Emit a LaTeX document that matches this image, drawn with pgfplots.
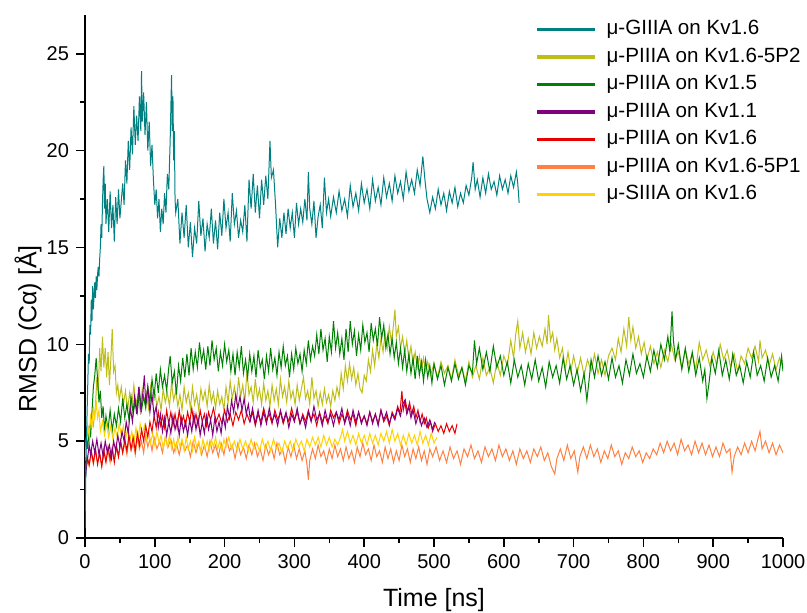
\documentclass[border=0pt]{standalone}
\usepackage{fontspec}
\setmainfont{Liberation Sans}
\usepackage{pgfplots}
\usepackage{pgfplotstable}
\pgfplotsset{compat=1.18}
\definecolor{cTeal}{RGB}{0,128,128}
\definecolor{cOlive}{RGB}{190,190,25}
\definecolor{cGreen}{RGB}{0,128,0}
\definecolor{cPurple}{RGB}{128,0,128}
\definecolor{cRed}{RGB}{232,0,0}
\definecolor{cOrange}{RGB}{255,128,64}
\definecolor{cYellow}{RGB}{255,210,0}

\pgfplotstableread{
t v
0 0.5
1 3
2 5
3 6.5
4 8
5 9.5
6 9
7 11
8 10.5
9 12.3
10 11.2
11 13
12 11.8
13 12.5
14 13.2
15 12.4
16 13.5
17 12.8
18 13.6
19 14
20 13.5
21 14.4
22 15
23 16.2
24 15.5
25 17.2
26 18.5
27 19.2
28 17
29 18.3
30 16.2
32 17.5
34 15.8
36 17.9
38 16
40 17.2
42 15.3
44 17.6
46 16.2
48 18
50 16.5
52 17.4
54 18.3
56 17.2
58 19.5
60 18.3
62 20.5
64 19
66 21.2
68 19.8
70 22.3
72 20.3
74 21.8
76 20.5
78 22.8
80 21
81 24.1
82 21.5
84 23
86 20.8
88 22.5
90 20
92 21.5
94 19.2
96 20.3
98 18.5
100 17.2
102 18
104 16.5
106 17.5
108 15.8
110 17
112 16.2
114 17.8
116 16.8
118 18.8
120 18
122 20.5
124 23.9
125 21
126 22.8
127 19.5
128 21
129 17.5
130 16.8
133 17.5
136 15.2
139 16.8
142 15.5
145 17.2
148 15
151 16.3
154 14.5
157 16
160 15.2
163 17.4
166 15.6
169 16.5
172 14.8
175 16.2
178 15.5
181 17
184 15.2
187 16.4
190 14.9
193 16.8
196 15.6
199 17.5
202 16
205 16.8
208 15.3
211 17.8
214 16.2
217 16.9
220 15.5
223 16.4
226 15.8
229 17.2
232 15.3
235 18.5
238 17
241 18.8
244 16.8
247 18.2
250 16.5
253 18.5
256 17.2
259 18.7
262 17.5
265 20.5
267 18.6
270 19
273 17.2
276 15
279 16.5
282 15.5
285 16.8
288 15.7
291 17
294 16
297 16.8
300 15.5
303 17.3
306 16.2
309 17
312 16.3
315 17.5
318 16.4
320 18.9
322 17
325 16.2
328 17.4
331 15.5
334 16.6
337 17.2
340 16
343 18.6
346 16.8
349 17.5
352 16.6
356 17.6
360 16.8
364 17.9
368 16.9
372 17.5
376 16.6
380 18.2
384 17.1
388 17.8
392 16.9
396 18.3
400 17.3
404 18
408 17
412 18.5
416 17.4
420 18.1
424 17.2
428 18.6
432 17.6
436 18.3
440 17.4
444 18.7
448 17.8
452 18.4
456 17.5
460 18.9
464 17.9
468 18.5
472 17.8
476 19
480 18.2
484 19.7
487 18.5
490 17.5
494 16.8
498 17.6
502 17
506 18
510 17.2
514 17.8
518 16.9
522 17.9
526 17.3
530 18.1
534 17.1
538 17.8
542 17.3
546 18.2
550 17.7
554 18.6
556 19.4
559 18
562 18.5
566 17.6
570 18.6
574 17.8
578 18.8
582 18
586 18.4
590 17.7
594 18.7
598 18
602 18.5
606 17.8
610 18.7
614 18.1
618 18.9
620 18.3
622 17.3
}\giiia

\pgfplotstableread{
t v
0 4.5
2 5.2
4 4.6
6 5.8
8 5.2
10 6.5
12 7.8
14 8.4
16 9.3
18 8.2
20 7
22 7.6
24 6.2
26 6.8
28 5.5
30 6.3
33 5.6
36 6.6
39 5.5
42 6.4
45 5.8
48 6.7
51 6.0
54 7.2
57 6.2
60 6.9
63 6.1
66 7.3
69 6.4
72 7.1
75 6.5
78 7.6
81 6.6
84 7.3
87 6.7
90 7.8
93 7
96 8.2
99 7.3
102 8.5
105 7.5
108 8.7
111 7.8
114 8.4
117 7.6
120 8.8
122 9.4
125 8
128 8.6
131 7.4
134 8.9
137 8.1
140 9.3
143 8.3
146 9.5
149 8.4
152 9.8
155 8.7
158 9.6
161 8.8
164 10.1
167 9.1
170 9.7
173 8.7
176 9.9
179 8.9
182 10.2
185 9.2
188 9.8
191 8.6
194 9.6
197 8.9
200 10
203 9.1
206 9.7
209 8.6
212 9.5
215 8.4
218 9.6
221 8.8
224 9.9
227 8.5
230 9.2
233 8.3
236 9.5
239 8.6
242 9.4
245 8.3
248 9.7
251 8.8
254 9.2
257 8.2
260 9.4
263 8.6
266 9.8
269 8.7
272 9.3
275 8.4
278 9.6
281 8.8
284 9.9
287 8.9
290 9.4
293 8.3
296 9.5
299 8.7
302 9.8
305 9
308 9.5
311 8.6
314 9.7
317 9
320 10.2
323 9.2
326 9.9
329 9.4
332 10.5
335 9.5
338 10.8
341 9.7
344 10.3
347 9.1
350 10.4
353 9.6
356 11.2
359 9.8
362 10.6
365 9.5
368 10.3
371 9.2
374 10.8
377 9.6
380 11.2
383 10
386 10.7
389 9.4
392 10.5
395 9.7
398 11
401 10.1
404 10.6
407 9.6
410 11.1
413 10.2
416 10.8
419 9.9
422 11.4
425 10.3
428 11
431 9.8
434 10.5
437 9.5
440 10.3
443 9.3
446 10.1
449 9
452 9.8
455 8.8
458 9.7
461 8.6
464 9.5
467 8.5
470 9.3
473 8.2
476 9.4
479 8.4
482 9.1
485 8.1
488 9.2
491 8.3
494 8.9
497 8
500 9
505 8.2
510 8.9
515 7.9
520 8.8
525 8.1
530 9
535 8.2
540 8.8
545 7.9
550 8.9
555 8.5
558 10.2
561 9
565 9.8
570 8.7
575 9.6
580 8.6
585 9.9
590 8.8
595 9.4
600 8.4
605 9.1
610 8
615 9.2
620 8.3
625 8.9
630 7.9
635 9
640 8.2
645 9.2
650 8.1
655 8.8
660 7.8
665 9.1
670 8.3
675 8.9
680 8
685 9.3
690 8.2
695 8.9
700 7.9
705 8.7
710 7.6
715 8.5
719 7.1
722 8.1
725 9.2
730 8.3
735 9.4
740 8.4
745 9.1
750 8.2
755 9.3
760 8.3
765 8.9
770 8
775 9.2
780 8.4
785 9.5
790 8.5
795 9
800 8.3
805 9.4
810 8.6
815 9.7
820 8.8
825 10
830 9.2
835 10.4
838 9.6
841 11.7
843 10.2
846 9.2
850 10
855 8.7
860 9.8
865 8.6
870 9.6
875 8.4
880 9.3
885 8.1
888 8.7
891 7.2
894 8
898 9.3
903 8.5
908 9.7
913 8.4
918 9.2
923 8.2
928 9.5
933 8.4
938 8.9
943 8
948 9.1
953 8.3
958 9.6
963 8.4
968 8.9
973 8.1
978 9.3
983 8.3
988 8.9
993 8.1
998 9.4
1000 8.6
}\kvfive

\pgfplotstableread{
t v
0 4.5
3 5.5
6 5
9 6.3
12 5.8
15 6.8
17 8.3
19 7.5
21 9.8
23 8.6
25 10.4
27 8.8
29 9.8
31 8.3
33 9.6
35 7.9
37 9.2
39 10.8
41 8.6
43 8.9
45 7.5
47 7.9
49 7.1
52 7.8
55 6.9
58 7.6
61 6.6
64 7.5
67 6.8
70 7.9
73 6.9
76 7.4
79 6.6
82 7.7
85 7
88 7.5
91 6.7
94 7.8
97 7
100 7.6
103 6.8
106 7.3
109 6.6
112 7.7
115 7
118 7.5
121 6.8
124 8
127 7.1
130 7.6
133 6.8
136 7.4
139 6.6
142 7.8
145 7
148 7.5
151 6.7
154 7.8
157 6.9
160 7.4
163 6.6
166 7.7
169 7.1
172 7.6
175 6.8
178 7.9
181 7
184 7.5
187 6.7
190 7.6
193 6.9
196 7.3
199 6.6
202 7.8
205 7
208 8.1
211 7.2
214 7.8
217 6.9
220 8.3
223 7.3
226 7.9
229 7
232 8.6
235 7.4
238 7.8
241 7
244 8.2
247 7.2
250 7.7
253 6.9
256 8
259 7.1
262 7.6
265 6.8
268 7.9
271 7.1
274 7.7
277 6.9
280 8.2
283 7.3
286 7.8
289 7
292 8.1
295 7.2
298 7.6
301 6.9
304 7.9
307 7.1
310 7.7
313 8.3
316 7.2
319 7.6
322 6.9
325 8.3
328 7.2
331 7.6
334 6.8
337 7.5
340 6.9
343 7.7
346 7
349 7.4
352 6.8
355 7.6
358 7.1
361 7.8
364 7.3
367 8.5
370 7.7
373 8.9
376 8.1
379 9
382 8.2
385 8.8
388 7.9
391 8.5
394 7.7
397 7.5
400 8.4
403 8.1
406 9.2
409 8.6
412 9.7
415 8.9
418 10
421 9.3
424 10.3
427 9.6
430 10.6
433 9.8
436 10.9
439 10.1
442 11
444 11.8
446 10.4
449 10.9
452 9.8
455 10.4
458 9.5
461 10.2
464 9.2
467 9.9
470 9
473 9.6
476 8.8
479 9.4
482 8.7
485 9.3
488 8.6
491 9.1
495 8.4
500 9
505 8.3
510 9.1
515 8.5
520 8.9
525 8.2
530 9.2
535 8.4
540 8.8
545 8.1
550 9.1
555 8.3
560 8.9
565 8.2
570 9.3
575 8.4
580 8.8
585 8
590 9.1
595 8.4
600 9.4
605 8.9
610 10.2
614 9.3
617 10.5
620 11.2
623 9.8
627 10.6
631 9.6
635 10.3
639 9.5
643 10.6
647 9.8
651 10.4
655 9.9
659 10.8
662 10
664 11.5
667 10.2
670 10.6
673 9.7
676 10.3
680 9.3
684 9.8
688 8.7
692 9.6
696 8.6
700 9.4
705 8.5
710 9.3
715 8.4
720 9.2
725 8.6
730 9.5
735 8.5
740 9.2
745 8.4
750 9.4
755 9.8
760 9.2
764 10.3
768 9.6
772 10.8
776 9.9
779 11.4
782 10.2
785 10.9
789 9.8
793 10.4
797 9.5
801 10.1
805 9.2
810 9.9
815 9
820 9.6
825 8.8
830 9.7
835 9.1
840 10
845 9.2
850 9.6
855 8.8
860 9.7
865 9
870 9.5
875 8.7
880 10.1
885 9.2
890 9.7
895 8.9
900 9.6
905 8.9
910 10
915 9.2
920 9.7
925 8.8
930 9.5
935 8.6
940 9.4
945 9
950 9.8
955 9.3
960 9.9
965 9.1
967 10.2
970 9.3
975 9.7
980 8.9
985 9.5
990 8.7
995 9.3
1000 8.8
}\ptwo

\pgfplotstableread{
t v
0 2.8
2 3.6
4 4.2
6 4.8
8 4.3
11 5
14 4.4
17 5.1
20 4.3
23 4.9
26 4.2
29 5
32 4.4
35 4.8
38 4.1
41 5
44 4.5
47 5.3
50 4.7
53 5.5
56 5
59 6
62 5.4
65 6.7
68 6
71 7.3
74 6.4
77 7.8
80 6.6
83 7.5
85 8.4
87 6.9
90 7.8
93 6.5
96 7.4
99 6.3
102 6.8
105 5.7
108 6.4
111 5.5
114 6.2
117 5.3
120 6
123 5.4
126 6.3
129 5.6
132 6.1
135 5.3
138 6.2
141 5.5
144 6
147 5.3
150 6.1
153 5.5
156 6.4
159 5.6
162 6.2
165 5.3
168 6
171 5.4
174 6.3
177 5.6
180 6.1
183 5.3
186 6.2
189 5.5
192 6
195 5.4
198 6.3
201 5.7
204 6.8
207 6.2
210 7.1
213 6.5
216 7.4
219 6.7
222 7.3
225 6.6
228 7.2
231 6.4
234 6.9
237 6.1
240 6.7
244 5.9
248 6.6
252 5.8
256 6.5
260 5.9
264 6.7
268 6
272 6.4
276 5.8
280 6.6
284 6
288 6.5
292 5.7
296 6.4
300 6
304 6.7
308 5.9
312 6.3
316 5.7
320 6.5
324 6
328 6.8
332 6.1
336 6.4
340 5.8
344 6.6
348 6
352 6.4
356 5.8
360 6.5
364 6.1
368 6.7
372 5.9
376 6.4
380 5.8
384 6.6
388 6
392 6.5
396 5.9
400 6.3
404 5.8
408 6.5
412 5.9
416 6.4
420 5.8
424 6.6
428 6.1
432 6.5
436 5.9
440 6.4
444 6.1
448 6.7
452 6.3
455 6.9
458 7.1
461 6.4
464 6.8
467 6.2
470 6.6
474 5.9
478 6.4
482 5.8
486 6.2
490 5.7
494 6.1
498 5.6
501 6
}\kvone

\pgfplotstableread{
t v
0 3.5
3 4.2
6 3.8
9 4.5
12 3.9
15 4.6
18 3.8
21 4.4
24 3.7
27 4.5
30 3.9
33 4.7
36 4.1
39 4.6
42 3.9
45 4.8
48 4.2
51 5
54 4.4
57 5.1
60 4.5
63 5.3
66 4.6
69 5.2
72 4.5
75 5.4
78 4.8
81 5.6
84 5
87 5.8
90 5.2
93 6
96 5.5
99 6.3
102 5.7
105 6.5
108 5.8
111 6.3
114 5.7
117 6.6
120 5.9
123 6.5
126 5.8
129 6.4
132 5.7
135 6.6
138 5.9
141 6.3
144 5.8
147 6.5
150 6
153 6.7
156 5.9
159 6.4
162 5.8
165 6.6
168 6
171 6.4
174 5.8
177 6.5
180 6.1
184 6.7
188 6
192 6.4
196 5.9
200 6.6
204 6
208 6.4
212 5.8
216 6.5
220 6.1
224 6.6
228 5.9
232 6.4
236 6
240 6.5
244 5.8
248 6.4
252 6
256 6.7
260 6.1
264 6.4
268 5.9
272 6.6
276 6.1
280 6.5
284 5.9
288 6.4
292 6
296 6.7
300 6.1
304 6.5
308 5.9
312 6.4
316 6
320 6.6
324 6.1
328 6.4
332 5.8
336 6.5
340 6
344 6.3
348 5.9
352 6.6
356 6.2
360 6.5
364 5.9
368 6.4
372 6
376 6.6
380 6.1
384 6.4
388 5.8
392 6.5
396 6
400 6.3
404 5.9
408 6.5
412 6
416 6.4
420 5.9
424 6.6
428 6
432 6.3
436 5.8
440 6.5
444 6.2
448 6.8
451 6.4
454 7.6
456 6.6
459 7.1
462 6.5
465 7
468 6.4
471 6.8
474 6.2
477 6.6
480 6
483 6.4
486 5.9
489 6.2
492 5.7
495 6
498 5.5
502 5.9
506 5.5
510 5.8
514 5.4
518 5.9
522 5.5
526 5.8
530 5.4
533 5.9
}\kvsix

\pgfplotstableread{
t v
0 3.4
3 4
6 3.7
9 4.4
12 3.8
15 4.5
18 3.9
21 4.3
24 3.7
27 4.6
30 4
33 4.5
36 3.9
39 4.7
42 4.1
45 4.6
48 4.2
51 5
54 4.4
57 4.9
60 4.3
63 5.1
66 4.5
69 4.9
72 4.3
75 5.2
78 4.6
81 5
84 4.4
87 5.3
90 4.7
93 5.1
96 4.5
99 5.2
103 4.6
107 5
111 4.4
115 5.2
119 4.7
123 5.1
127 4.4
131 4.9
135 4.3
139 5
143 4.5
147 4.8
151 4.2
155 5
159 4.4
163 4.9
167 4.3
171 4.8
175 4.2
179 5
183 4.4
187 4.8
191 4.2
195 4.9
199 4.3
203 5.1
207 4.5
211 4.8
215 4.1
219 4.9
223 4.3
227 4.7
231 4.1
235 4.8
239 4.3
243 4.9
247 4.2
251 4.6
255 4
259 4.8
263 4.3
267 4.7
271 4.1
275 4.9
279 4.3
283 4.6
287 3.9
291 4.7
295 4.2
299 4.8
303 4.1
307 4.6
311 4
315 4.5
318 3.8
320 3
322 4
326 4.6
330 4.1
334 4.8
338 4.2
342 4.5
346 3.9
350 4.6
354 4.1
358 4.8
362 4.2
366 4.6
370 4
374 4.7
378 4.1
382 4.5
386 3.9
390 4.7
394 4.2
398 4.9
402 4.3
406 4.6
410 4
414 4.8
418 4.2
422 4.5
426 3.9
430 4.7
434 4.1
438 4.6
442 3.9
446 4.5
450 4
454 4.8
458 4.2
462 4.6
466 3.9
470 4.6
474 4.1
478 4.7
482 4
486 4.5
490 3.8
494 4.6
498 4.2
503 4.7
508 4
513 4.5
518 3.9
523 4.7
528 4.1
533 4.5
538 3.8
543 4.6
548 4.2
553 4.8
558 4.1
563 4.5
568 3.9
573 4.7
578 4.2
583 4.6
588 4
593 4.8
598 4.2
603 4.6
608 4
613 4.5
618 3.8
623 4.6
628 4.1
633 4.5
638 3.9
643 4.6
648 4.2
653 4.7
658 4
663 4.4
668 3.7
673 3.3
676 4.1
681 4.6
686 4
691 4.8
696 4.1
701 4.5
706 3.4
709 4.2
714 4.7
719 4.1
724 4.8
729 4.2
734 4.6
739 3.9
744 4.5
749 4.1
754 4.8
759 4.2
764 4.5
769 3.8
774 4.4
779 4.1
784 4.7
789 4.2
794 4.5
799 3.9
804 4.4
809 4.1
814 4.6
819 4.3
824 4.9
829 4.4
834 5
839 4.5
844 4.9
849 4.3
854 5.1
859 4.5
864 4.8
869 4.3
874 5
879 4.4
884 4.9
889 4.3
894 4.8
899 4.2
904 4.7
909 4.2
914 4.9
919 4.4
924 4.6
927 3.4
930 4.2
935 4.7
940 4.3
945 4.9
950 4.4
955 5
960 4.5
964 5.1
967 5.5
970 4.6
975 5
980 4.4
985 4.9
990 4.3
995 4.8
1000 4.4
}\pone

\pgfplotstableread{
t v
0 4
2 5
4 5.8
6 5.2
8 6.4
10 5.7
12 6.8
14 6.1
16 7.1
18 6.2
20 6.6
22 5.5
25 6
28 5.3
31 5.9
34 5.2
37 5.8
40 5.1
43 5.7
46 5.2
49 5.9
52 5.3
55 5.8
58 5.1
61 5.6
64 5
67 5.5
70 4.9
73 5.7
76 5.1
79 5.9
82 5.3
85 5.8
88 5.1
91 5.6
94 4.9
97 5.4
100 4.8
103 5.5
106 4.9
109 5.3
112 4.6
115 5.2
118 4.7
121 5.3
124 4.6
127 5.1
130 4.5
133 5.2
136 4.7
139 5.1
142 4.5
145 5.2
148 4.6
151 5
154 4.5
157 5.2
160 4.7
163 5
166 4.4
169 5.1
172 4.6
175 5
178 4.5
181 5.1
184 4.7
187 5.2
190 4.6
193 5
196 4.5
199 5.1
202 4.7
206 5.2
210 4.6
214 5
218 4.5
222 5.1
226 4.6
230 5
234 4.5
238 5.1
242 4.6
246 4.9
250 4.5
254 5.1
258 4.6
262 5
266 4.5
270 5.1
274 4.6
278 4.9
282 4.4
286 5
290 4.6
294 5
298 4.5
302 5.1
306 4.7
310 5
314 4.5
318 5.1
322 4.7
326 5.2
330 4.8
334 5.2
338 4.7
342 5.3
346 4.8
350 5.2
354 4.7
358 5.1
362 4.8
366 5.2
369 5.6
372 5
376 5.5
380 4.9
384 5.3
388 4.8
392 5.4
396 4.9
400 5.3
404 4.8
408 5.4
412 4.9
416 5.3
420 4.8
424 5.4
428 5
432 5.5
436 4.9
440 5.6
444 5
448 5.4
452 4.8
456 5.3
460 4.8
464 5.4
468 4.9
472 5.3
476 4.8
480 5.5
484 4.9
488 5.3
492 4.8
496 5.4
500 4.9
504 5.2
}\siiia

\begin{document}
\begin{tikzpicture}
\useasboundingbox (-42.5pt,-37pt) rectangle (361pt,269pt);
\begin{axis}[
  at={(0pt,0pt)}, anchor=south west,
  scale only axis=true,
  width=349pt, height=261.5pt,
  xmin=0, xmax=1000, ymin=0, ymax=27,
  axis x line*=bottom, axis y line*=left,
  axis line style={-, line width=0.8pt, black},
  xtick={0,100,...,1000},
  ytick={0,5,...,25},
  minor x tick num=1, minor y tick num=1,
  tick align=outside,
  major tick length=4.5pt, minor tick length=2.5pt,
  every tick/.style={black, line width=0.8pt},
  tick label style={font=\fontsize{10}{12}\selectfont},
  /pgf/number format/assume math mode=true,
  /pgf/number format/1000 sep={},
  xlabel={Time [ns]},
  ylabel={RMSD (Cα) [Å]},
  label style={font=\fontsize{12.5}{15}\selectfont},
  xlabel style={at={(axis description cs:0.5,-0.1185)}, anchor=center},
  ylabel style={at={(axis description cs:-0.0817,0.40)}, anchor=center},
  legend cell align=left,
  legend image code/.code={\draw[#1] (0pt,0pt) -- (29pt,0pt);},
  legend style={draw=none, fill=none, at={(axis description cs:0.6447,0.994)}, anchor=north west,
    font=\fontsize{10.3}{12.5}\selectfont, inner sep=0pt, row sep=2.75pt, column sep=5pt,
    nodes={inner sep=0pt, text height=8pt, text depth=3pt}},
  every axis plot/.append style={line width=0.5pt},
]
\addplot[cOlive, forget plot] table[x=t,y=v] {\ptwo};
\addplot[cGreen, forget plot] table[x=t,y=v] {\kvfive};
\addplot[cOrange, forget plot] table[x=t,y=v] {\pone};
\addplot[cYellow, forget plot] table[x=t,y=v] {\siiia};
\addplot[cRed, forget plot] table[x=t,y=v] {\kvsix};
\addplot[cPurple, forget plot] table[x=t,y=v] {\kvone};
\addplot[cTeal, forget plot] table[x=t,y=v] {\giiia};
\addlegendimage{cTeal, line width=1.6pt}
\addlegendentry{μ-GIIIA on Kv1.6}
\addlegendimage{cOlive, line width=1.6pt}
\addlegendentry{μ-PIIIA on Kv1.6-5P2}
\addlegendimage{cGreen, line width=1.6pt}
\addlegendentry{μ-PIIIA on Kv1.5}
\addlegendimage{cPurple, line width=1.6pt}
\addlegendentry{μ-PIIIA on Kv1.1}
\addlegendimage{cRed, line width=1.6pt}
\addlegendentry{μ-PIIIA on Kv1.6}
\addlegendimage{cOrange, line width=1.6pt}
\addlegendentry{μ-PIIIA on Kv1.6-5P1}
\addlegendimage{cYellow, line width=1.6pt}
\addlegendentry{μ-SIIIA on Kv1.6}
\end{axis}
\end{tikzpicture}
\end{document}
